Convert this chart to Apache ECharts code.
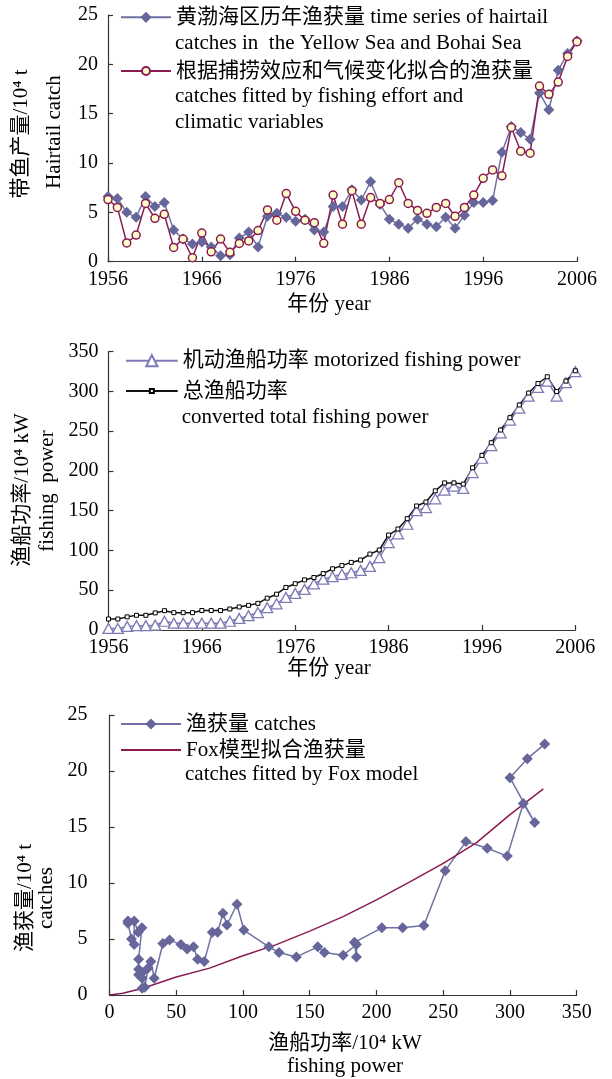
<!DOCTYPE html>
<html><head><meta charset="utf-8">
<script src="https://cdn.jsdelivr.net/npm/echarts@6/dist/echarts.min.js"></script>
<style>html,body{margin:0;padding:0;background:#fff}#c{width:612px;height:1079px}</style>
</head><body><div id="c"></div>
<script>
const years = ['1956','1957','1958','1959','1960','1961','1962','1963','1964','1965',
 '1966','1967','1968','1969','1970','1971','1972','1973','1974','1975',
 '1976','1977','1978','1979','1980','1981','1982','1983','1984','1985',
 '1986','1987','1988','1989','1990','1991','1992','1993','1994','1995',
 '1996','1997','1998','1999','2000','2001','2002','2003','2004','2005','2006'];
const catches = [6.6,6.4,5.0,4.5,6.6,5.6,6.0,3.2,2.3,1.8,
 2.0,1.5,0.6,0.7,2.4,3.0,1.5,4.6,4.9,4.5,
 4.1,4.3,3.2,3.0,5.6,5.6,7.3,6.25,8.1,5.8,
 4.3,3.8,3.4,4.3,3.8,3.55,4.5,3.4,4.7,6.0,
 6.0,6.2,11.1,13.7,13.1,12.4,17.1,15.4,19.4,21.1,22.4];
const fitted = [6.3,5.5,1.9,2.7,5.9,4.4,4.8,1.45,2.3,0.4,
 2.9,1.0,2.3,0.95,1.85,2.1,3.15,5.25,4.2,6.9,
 5.1,4.2,3.95,1.86,6.75,3.8,7.2,3.8,6.5,5.9,
 6.3,8.0,5.9,5.2,4.9,5.5,5.9,4.6,5.5,6.75,
 8.45,9.3,8.7,13.6,11.2,11.0,17.8,16.96,18.2,20.8,22.3];
const motorPower = [2,2,4.5,5.5,5.5,6,11,8.5,8.5,8.5,
 8.5,8.5,8.5,11,14.5,18,22,28,33,41,
 46,51,58,64,67,70,72,75,80,91,
 110,121,133,150,154,165,176,181,178,198,
 216,232,248,264,279,294,305,313,294,311,325];
const totalPower = [13.8,13.8,16.5,18.5,18.5,21.5,24.3,21.8,21.8,21.8,
 24.5,24.5,24.5,26.4,29,31,33.5,40,45,53.5,
 58.2,63,66,71,77,81,85,88,95.5,100.6,
 119.4,127,140,156,161,175,185,185,183.5,204,
 219.6,235.5,251.5,267,283,298,310,318.5,300,313,326];
const foxPower = [0,10,25,50,75,100,125,150,175,200,225,250,275,300,325];
const foxCatch = [0,0.15,0.6,1.6,2.4,3.5,4.5,5.7,7.0,8.5,10.1,11.75,13.6,16.1,18.4];

const N1 = '黄渤海区历年渔获量 time series of hairtail';
const N2 = '根据捕捞效应和气候变化拟合的渔获量';
const N3 = '机动渔船功率 motorized fishing power';
const N4 = '总渔船功率';
const N5 = '渔获量 catches';
const N6 = 'Fox模型拟合渔获量';

const FONT = "'Liberation Serif','Noto Sans CJK SC',serif";
const F21 = "21px 'Liberation Serif','Noto Sans CJK SC',serif";
const AX = '#333';
function yAx(gi, max, itv, margin) {
  return {gridIndex: gi, type: 'value', min: 0, max: max, interval: itv,
    axisLine: {show: true, lineStyle: {color: AX, width: 1.2}},
    axisTick: {show: true, inside: true, length: 5, lineStyle: {color: AX, width: 1.2}},
    axisLabel: {color: '#000', fontFamily: FONT, fontSize: 20, margin: margin},
    splitLine: {show: false}};
}
function xCat(gi) {
  return {gridIndex: gi, type: 'category', data: years, boundaryGap: false,
    axisLine: {show: true, lineStyle: {color: AX, width: 1.2}},
    axisTick: {show: true, inside: true, length: 5, interval: 9, lineStyle: {color: AX, width: 1.2}},
    axisLabel: {color: '#000', fontFamily: FONT, fontSize: 20, interval: 9, margin: 8},
    splitLine: {show: false}};
}
function txt(x, y, s, rot, align) {
  return {type: 'text', x: x, y: y, rotation: rot || 0,
    style: {text: s, font: F21, fill: '#000', align: align || 'left', verticalAlign: 'middle'}};
}
// one legend per entry so each icon symbol can have its own size
function leg(item, left, centerY, w, h) {
  return {orient: 'vertical', left: left, top: centerY - 10.5, itemWidth: w, itemHeight: h,
    padding: 0, selectedMode: false, data: [item],
    textStyle: {fontFamily: FONT, fontSize: 21, color: '#000'}};
}
const PURPLE = '#66669A', PURPLE_L = '#7070A4', MAG = '#8A1B52', LAV = '#7D7AB4';

const option = {
  backgroundColor: '#fff',
  animation: false,
  grid: [
    {left: 108, top: 15, width: 469, height: 246.7},
    {left: 108.5, top: 351.7, width: 466.8, height: 278.3},
    {left: 109.5, top: 715, width: 467.2, height: 280}
  ],
  xAxis: [xCat(0), xCat(1),
    {gridIndex: 2, type: 'value', min: 0, max: 350, interval: 50,
     axisLine: {show: true, lineStyle: {color: AX, width: 1.2}},
     axisTick: {show: true, inside: true, length: 5, lineStyle: {color: AX, width: 1.2}},
     axisLabel: {color: '#000', fontFamily: FONT, fontSize: 20, margin: 8},
     splitLine: {show: false}}],
  yAxis: [yAx(0, 25, 5, 10), yAx(1, 350, 50, 10), yAx(2, 25, 5, 22)],
  legend: [
    leg(N1, 120, 17.3, 50, 14),
    leg(N2, 120, 71, 50, 10),
    leg(N3, 125, 360.7, 51.7, 14),
    leg(N4, 125, 391, 51.7, 5),
    leg(N5, 120, 724, 60, 14),
    leg({name: N6, itemStyle: {color: 'rgba(0,0,0,0)', borderWidth: 0}}, 120, 750, 60, 14)
  ],
  graphic: [
    txt(175, 43.3, 'catches in  the Yellow Sea and Bohai Sea'),
    txt(175, 96.7, 'catches fitted by fishing effort and'),
    txt(175, 122.7, 'climatic variables'),
    txt(181.7, 417.3, 'converted total fishing power'),
    txt(185, 774, 'catches fitted by Fox model'),
    txt(21.7, 134, '带鱼产量/10⁴ t', Math.PI / 2, 'center'),
    txt(54, 132, 'Hairtail catch', Math.PI / 2, 'center'),
    txt(22.3, 490, '渔船功率/10⁴ kW', Math.PI / 2, 'center'),
    txt(47.3, 491, 'fishing  power', Math.PI / 2, 'center'),
    txt(25, 898, '渔获量/10⁴ t', Math.PI / 2, 'center'),
    txt(46.7, 898, 'catches', Math.PI / 2, 'center'),
    txt(329, 304, '年份 year', 0, 'center'),
    txt(329, 668, '年份 year', 0, 'center'),
    txt(345, 1043, '渔船功率/10⁴ kW', 0, 'center'),
    txt(345, 1066, 'fishing power', 0, 'center')
  ],
  series: [
    {type: 'line', name: N1, xAxisIndex: 0, yAxisIndex: 0, data: catches,
     symbol: 'diamond', symbolSize: 11, showAllSymbol: true,
     itemStyle: {color: PURPLE}, lineStyle: {color: PURPLE_L, width: 1.5}},
    {type: 'line', name: N2, xAxisIndex: 0, yAxisIndex: 0, data: fitted,
     symbol: 'circle', symbolSize: 8, showAllSymbol: true,
     itemStyle: {color: '#FFFFCC', borderColor: MAG, borderWidth: 1.5}, lineStyle: {color: MAG, width: 1.5}},
    {type: 'line', name: N3, xAxisIndex: 1, yAxisIndex: 1, data: motorPower,
     symbol: 'triangle', symbolSize: [11, 10], showAllSymbol: true,
     itemStyle: {color: '#fff', borderColor: LAV, borderWidth: 1.3}, lineStyle: {color: LAV, width: 1.5}},
    {type: 'line', name: N4, xAxisIndex: 1, yAxisIndex: 1, data: totalPower,
     symbol: 'rect', symbolSize: 4, showAllSymbol: true,
     itemStyle: {color: '#fff', borderColor: '#000', borderWidth: 1}, lineStyle: {color: '#111', width: 1.5}},
    {type: 'line', name: N5, xAxisIndex: 2, yAxisIndex: 2,
     data: totalPower.map((e, i) => [e, catches[i]]),
     symbol: 'diamond', symbolSize: 11, showAllSymbol: true,
     itemStyle: {color: PURPLE}, lineStyle: {color: PURPLE_L, width: 1.5}},
    {type: 'line', name: N6, xAxisIndex: 2, yAxisIndex: 2,
     data: foxPower.map((e, i) => [e, foxCatch[i]]),
     symbol: 'none', itemStyle: {color: MAG}, lineStyle: {color: MAG, width: 1.5}}
  ]
};
const chart = echarts.init(document.getElementById('c'), null, {renderer: 'canvas'});
chart.setOption(option);
</script></body></html>
